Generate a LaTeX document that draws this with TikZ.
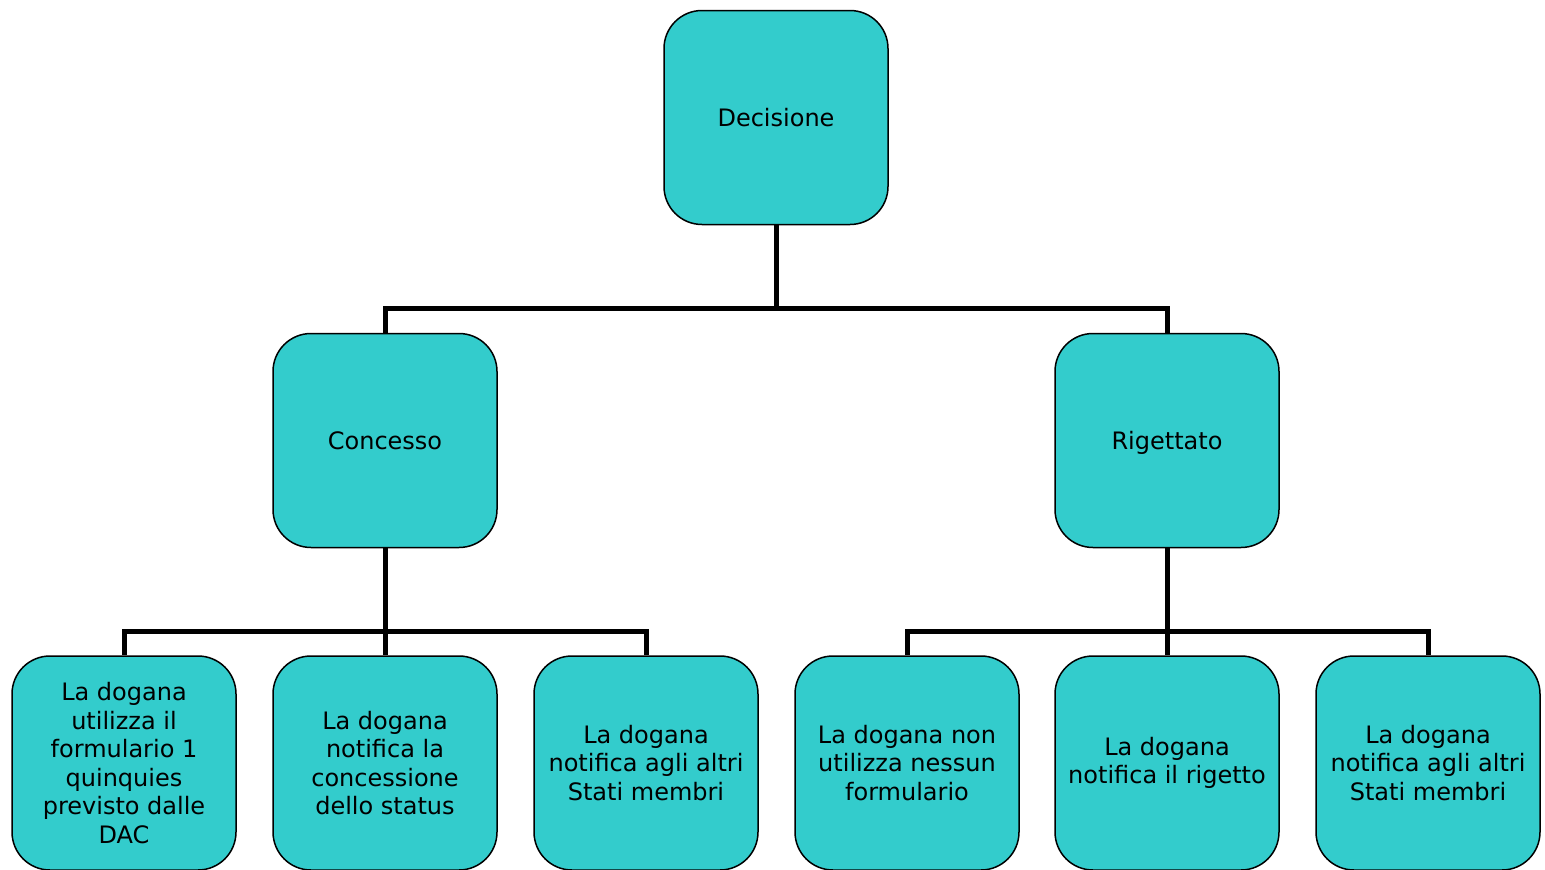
\documentclass[tikz,border=0pt]{standalone}
\usepackage{fontspec}
\setmainfont{DejaVu Sans}
\definecolor{boxfill}{HTML}{33CCCC}
\begin{document}
\begin{tikzpicture}[x=1pt,y=-1pt,
  box/.style={draw=black, line width=1.5pt, fill=boxfill, rounded corners=38pt,
    minimum width=224pt, minimum height=214pt, inner sep=0pt, align=center,
    font=\fontsize{24}{28.5}\selectfont, text=black},
  conn/.style={line width=5pt, draw=black}]
\useasboundingbox (0,0) rectangle (1545,870);
\node[box] (dec) at (776,117.5) {Decisione};
\node[box] (con) at (385,440.5) {Concesso};
\node[box, text depth=0pt] (rig) at (1167,440.5) {Rigettato};
\node[box] (a1) at (124,763) {La dogana\\utilizza il\\formulario 1\\quinquies\\previsto dalle\\DAC};
\node[box] (a2) at (385,763) {La dogana\\notifica la\\concessione\\dello status};
\node[box] (a3) at (646,763) {La dogana\\notifica agli altri\\Stati membri};
\node[box] (b1) at (907,763) {La dogana non\\utilizza nessun\\formulario};
\node[box] (b2) at (1167,763) {La dogana\\notifica il rigetto};
\node[box] (b3) at (1428,763) {La dogana\\notifica agli altri\\Stati membri};
\draw[conn] (dec.south) -- (dec.south |- 0,308) -| (con.north);
\draw[conn] (dec.south |- 0,308) -| (rig.north);
\draw[conn] (con.south) -- (con.south |- 0,631) -| (a1.north);
\draw[conn] (con.south |- 0,631) -- (a2.north);
\draw[conn] (con.south |- 0,631) -| (a3.north);
\draw[conn] (rig.south) -- (rig.south |- 0,631) -| (b1.north);
\draw[conn] (rig.south |- 0,631) -- (b2.north);
\draw[conn] (rig.south |- 0,631) -| (b3.north);
\end{tikzpicture}
\end{document}
